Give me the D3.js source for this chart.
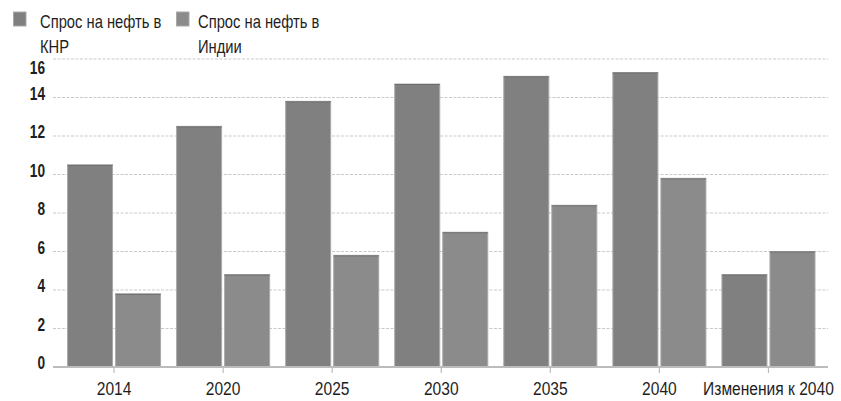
<!DOCTYPE html>
<html>
<head>
<meta charset="utf-8">
<script src="https://cdn.jsdelivr.net/npm/d3@7"></script>
<style>
  html, body { margin: 0; padding: 0; background: #fff; }
  svg { display: block; }
  text { font-family: "Liberation Sans", Arial, sans-serif; fill: #1e1e1e; }
</style>
</head>
<body>
<svg id="chart" width="841" height="401"></svg>
<script>
// Oil demand, China vs India (million barrels per day)
const categories = ["2014", "2020", "2025", "2030", "2035", "2040", "Изменения к 2040"];
const chinaDemand = [10.5, 12.5, 13.8, 14.7, 15.1, 15.3, 4.8];
const indiaDemand = [3.8, 4.8, 5.8, 7.0, 8.4, 9.8, 6.0];
const seriesNames = ["Спрос на нефть в КНР", "Спрос на нефть в Индии"];
const legendLines = [["Спрос на нефть в", "КНР"], ["Спрос на нефть в", "Индии"]];
const yTicks = [0, 2, 4, 6, 8, 10, 12, 14, 16];

const colors = ["#808080", "#8b8b8b"];
const squeeze = 0.82; // condensed look for all labels

const svg = d3.select("#chart");
const plot = { left: 53, right: 828, top: 59, bottom: 367 };

const rows = categories.map((c, i) => ({ category: c, values: [chinaDemand[i], indiaDemand[i]] }));

const x = d3.scaleBand()
  .domain(categories)
  .range([plot.left + 6.5, plot.right - 5])
  .paddingInner(0.147)
  .paddingOuter(0.0735);

const xInner = d3.scaleBand()
  .domain([0, 1])
  .range([0, x.bandwidth()])
  .paddingInner(0.0625);

const y = d3.scaleLinear().domain([0, 16]).range([plot.bottom, plot.top]);

// dashed horizontal gridlines
svg.append("g")
  .selectAll("line")
  .data(yTicks.filter(t => t > 0))
  .join("line")
  .attr("x1", plot.left)
  .attr("x2", plot.right)
  .attr("y1", d => y(d))
  .attr("y2", d => y(d))
  .attr("stroke", "#c9c9c9")
  .attr("stroke-width", 1)
  .attr("stroke-dasharray", "3,1.5");

// bars
const groups = svg.append("g")
  .selectAll("g")
  .data(rows)
  .join("g")
  .attr("transform", d => `translate(${x(d.category)},0)`);

groups.selectAll("rect")
  .data(d => d.values.map((v, k) => ({ v, k })))
  .join("rect")
  .attr("x", d => xInner(d.k))
  .attr("width", xInner.bandwidth())
  .attr("y", d => y(d.v))
  .attr("height", d => y(0) - y(d.v))
  .attr("fill", d => colors[d.k])
  .attr("stroke", "#a9a9a9")
  .attr("stroke-width", 1);

// bar tops have a slightly darker edge
groups.selectAll("line.top")
  .data(d => d.values.map((v, k) => ({ v, k })))
  .join("line")
  .attr("class", "top")
  .attr("x1", d => xInner(d.k))
  .attr("x2", d => xInner(d.k) + xInner.bandwidth())
  .attr("y1", d => y(d.v) + 0.5)
  .attr("y2", d => y(d.v) + 0.5)
  .attr("stroke", "#6e6e6e")
  .attr("stroke-width", 1);

// x axis baseline and ticks
const xAxis = d3.axisBottom(x).tickSize(6).tickSizeOuter(0);
const xg = svg.append("g")
  .attr("transform", `translate(0,${plot.bottom})`)
  .call(xAxis);
xg.select(".domain").remove();
xg.append("line")
  .attr("x1", plot.left)
  .attr("x2", plot.right)
  .attr("stroke", "#bcbcbc")
  .attr("stroke-width", 2);
xg.selectAll(".tick line").attr("stroke", "#bcbcbc").attr("stroke-width", 1.2);
xg.selectAll(".tick text")
  .attr("y", 28)
  .attr("dy", 0)
  .attr("transform", `scale(${squeeze},1)`)
  .style("font-size", "19px")
  .style("fill", "#1e1e1e");

// y axis labels; the top label sits below its gridline, clear of the legend
const yAxis = d3.axisLeft(y).tickValues(yTicks).tickSize(0).tickPadding(0);
const yg = svg.append("g")
  .attr("transform", `translate(45,-4)`)
  .call(yAxis);
yg.select(".domain").remove();
yg.selectAll(".tick text")
  .attr("transform", d => `translate(0,${d === 16 ? 13 : 0}) scale(0.78,1)`)
  .style("font-size", "17.5px")
  .style("font-weight", "bold")
  .style("fill", "#1e1e1e");

// legend
const swatchX = [13, 176];
const labelX = [40, 198];
const legend = svg.append("g")
  .selectAll("g")
  .data(seriesNames)
  .join("g");

legend.append("rect")
  .attr("x", (d, i) => swatchX[i] + 0.5)
  .attr("y", 12)
  .attr("width", 12.5)
  .attr("height", 14)
  .attr("fill", (d, i) => colors[i])
  .attr("stroke", "#a9a9a9")
  .attr("stroke-width", 1);

legend.each(function(d, i) {
  const t = d3.select(this).append("g")
    .attr("transform", `translate(${labelX[i]},0) scale(${squeeze},1)`)
    .append("text")
    .attr("y", 28)
    .style("font-size", "18px");
  t.selectAll("tspan")
    .data(legendLines[i])
    .join("tspan")
    .attr("x", 0)
    .attr("dy", (l, j) => j === 0 ? 0 : 25)
    .text(l => l);
});
</script>
</body>
</html>
